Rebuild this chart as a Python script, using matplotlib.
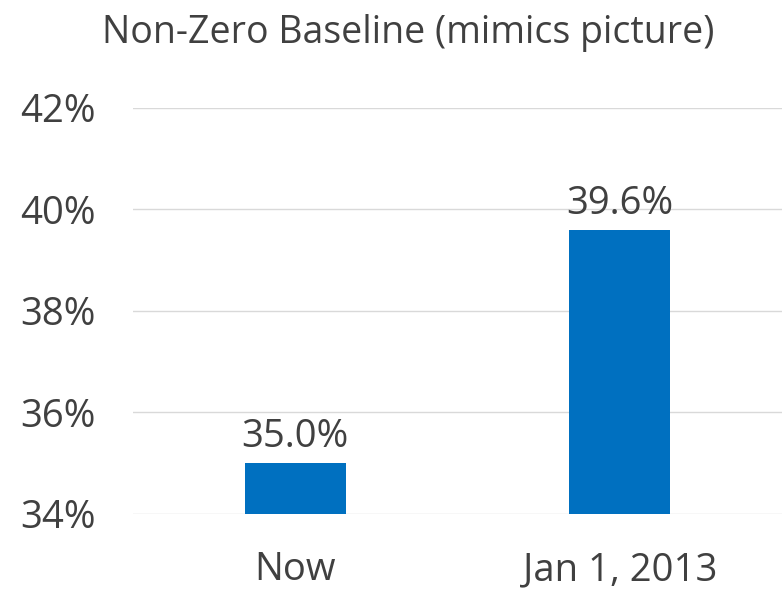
import matplotlib
matplotlib.use("Agg")
import matplotlib.pyplot as plt
from matplotlib.ticker import FuncFormatter

categories = ["Now", "Jan 1, 2013"]
values = [35.0, 39.6]
yticks = [34, 36, 38, 40, 42]
title = "Non-Zero Baseline (mimics picture)"

plt.rcParams['font.family'] = ['Open Sans', 'DejaVu Sans']
txt = '#404040'
bar_color = '#0070C0'
fs = 27.5

fig = plt.figure(figsize=(7.82, 5.92), dpi=100)
ax = fig.add_axes([0.170, 0.1318, 0.830, 0.6858])

x = list(range(len(categories)))
bars = ax.bar(x, [v - yticks[0] for v in values], bottom=yticks[0], width=0.31, color=bar_color, zorder=3)

ax.set_ylim(yticks[0], yticks[-1])
ax.set_xlim(-0.5, len(categories) - 0.5)
ax.set_yticks(yticks)
ax.yaxis.set_major_formatter(FuncFormatter(lambda v, p: f"{v:.0f}%"))
ax.set_xticks(x)
ax.set_xticklabels(categories)
ax.grid(axis='y', color='#d9d9d9', linewidth=1, zorder=0)
for s in ax.spines.values():
    s.set_visible(False)
ax.tick_params(axis='y', length=0, pad=27, labelsize=fs, labelcolor=txt)
ax.tick_params(axis='x', length=0, pad=27, labelsize=fs, labelcolor=txt)

for xi, v in zip(x, values):
    ax.annotate(f"{v:.1f}%", (xi, v), xytext=(0, 5), textcoords='offset points',
                ha='center', va='bottom', fontsize=fs, color=txt)

fig.text(0.522, 0.944, title, ha='center', va='center', fontsize=27, color=txt)

fig.savefig("out.png", dpi=100)
